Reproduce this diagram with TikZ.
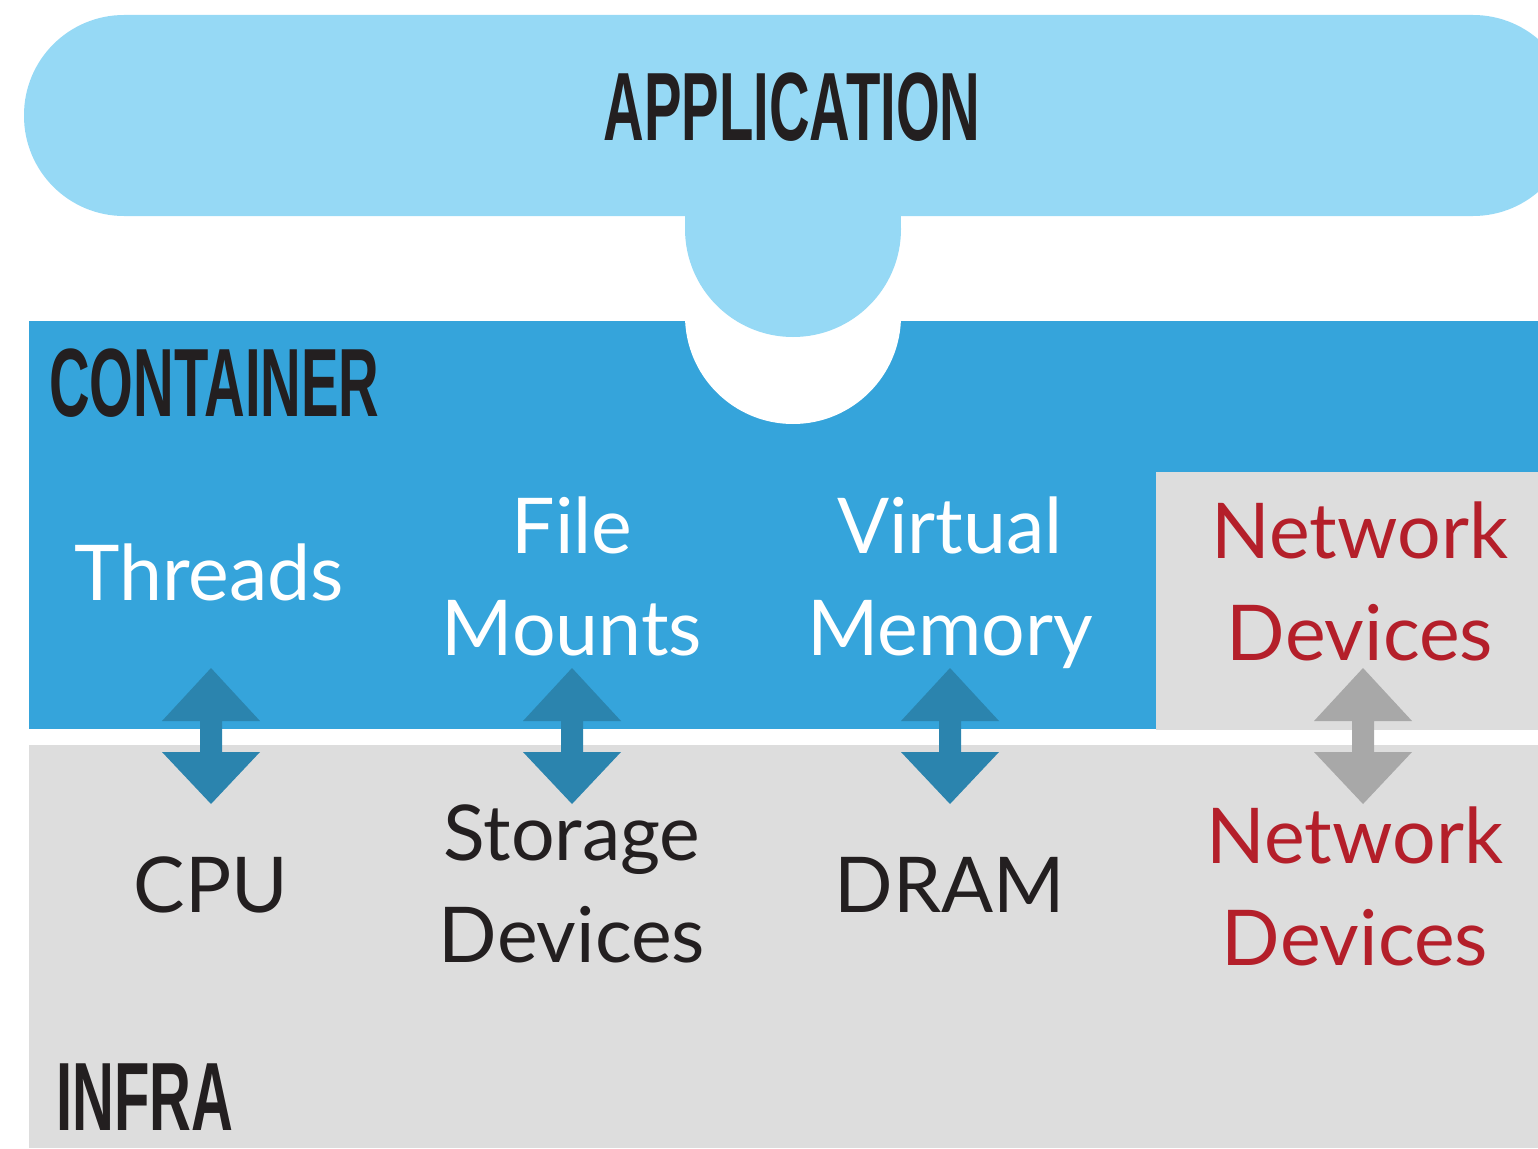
\documentclass[tikz,border=0pt]{standalone}
\usepackage{fontspec}
\setmainfont{Lato}
\newfontfamily\condfont[FakeStretch=0.58]{Liberation Sans}
\definecolor{appblue}{HTML}{96D9F5}
\definecolor{contblue}{HTML}{35A4DB}
\definecolor{infragrey}{HTML}{DDDDDD}
\definecolor{arrblue}{HTML}{2B84AE}
\definecolor{arrgrey}{HTML}{A8A8A8}
\definecolor{netred}{HTML}{B41F2A}
\definecolor{darktext}{HTML}{231F20}
\tikzset{
  heading/.style={inner sep=0pt, text=darktext, font=\condfont\bfseries\fontsize{97}{97}\selectfont},
  body/.style={inner sep=0pt, align=center, font=\fontsize{77}{102}\selectfont},
  whitetext/.style={body, text=white},
  darkbody/.style={body, text=darktext},
  redbody/.style={body, text=netred},
}
\newcommand\dblarrow[2]{%
  \fill[#2] ($(#1)+(0,-68)$) -- ($(#1)+(49,-15)$) -- ($(#1)+(11,-15)$) -- ($(#1)+(11,16)$)
    -- ($(#1)+(49,16)$) -- ($(#1)+(0,68)$) -- ($(#1)+(-49,16)$) -- ($(#1)+(-11,16)$)
    -- ($(#1)+(-11,-15)$) -- ($(#1)+(-49,-15)$) -- cycle;}
\usetikzlibrary{calc}
\begin{document}
\begin{tikzpicture}[x=1pt,y=-1pt]
\useasboundingbox (0,0) rectangle (1538,1148);
\begin{scope}
\clip (0,0) rectangle (1538,1148);
% container layer
\fill[contblue] (29,321) rectangle (1538,729);
\fill[white] (793,316) circle (108);
\fill[infragrey] (1156,472) rectangle (1538,730);
% infra layer
\fill[infragrey] (29,745) rectangle (1538,1148);
% application
\fill[appblue, rounded corners=100pt] (24,15) rectangle (1573,216);
\fill[appblue] (685,210) rectangle (901,229);
\fill[appblue] (793,229) circle (108);
\end{scope}
% headings
\node[heading, anchor=base] (app) at (792,140) {APPLICATION};
\node[heading, anchor=base west] (cont) at (49,416) {CONTAINER};
\node[heading, anchor=base west, xscale=1.03] (infra) at (56,1130) {INFRA};
% container labels
\node[whitetext, anchor=base] (threads) at (209,600) {Threads};
\node[whitetext, anchor=base] (files) at (572,655) {File\\Mounts};
\node[whitetext, anchor=base] (vmem) at (950,655) {Virtual\\Memory};
\node[redbody, anchor=base] (netc) at (1360,660) {Network\\Devices};
% infra labels
\node[darkbody, anchor=base] (cpu) at (211,912) {CPU};
\node[darkbody, anchor=base] (storage) at (572,962) {Storage\\Devices};
\node[darkbody, anchor=base] (dram) at (950,912) {DRAM};
\node[redbody, anchor=base] (neti) at (1355,965) {Network\\Devices};
% arrows
\coordinate (a1) at (211,736);
\coordinate (a2) at (572,736);
\coordinate (a3) at (950,736);
\coordinate (a4) at (1363,736);
\dblarrow{a1}{arrblue}
\dblarrow{a2}{arrblue}
\dblarrow{a3}{arrblue}
\dblarrow{a4}{arrgrey}
\end{tikzpicture}
\end{document}
